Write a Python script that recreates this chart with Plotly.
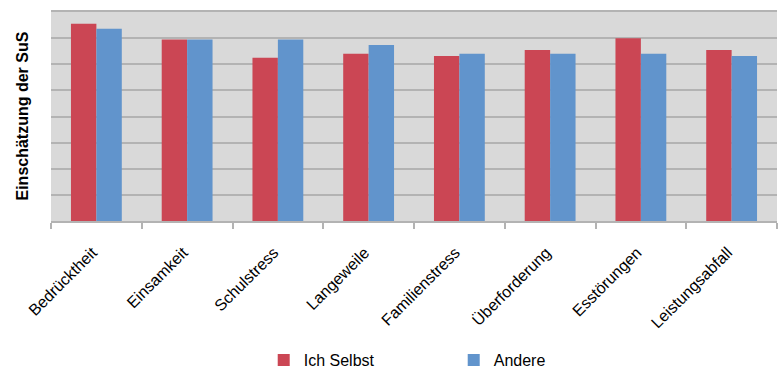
import plotly.graph_objects as go

categories = ["Bedrücktheit", "Einsamkeit", "Schulstress", "Langeweile",
              "Familienstress", "Überforderung", "Esstörungen", "Leistungsabfall"]
ich_selbst = [7.55, 6.95, 6.25, 6.40, 6.32, 6.55, 7.00, 6.55]
andere = [7.36, 6.95, 6.95, 6.74, 6.40, 6.40, 6.40, 6.32]

RED = "#CB4654"
BLUE = "#6194CC"
GRID = "#b3b3b3"
FONT = "Liberation Sans, Arial, sans-serif"

fig = go.Figure()
fig.add_trace(go.Bar(x=categories, y=ich_selbst, name="Ich Selbst", marker_color=RED, marker_line_width=0))
fig.add_trace(go.Bar(x=categories, y=andere, name="Andere", marker_color=BLUE, marker_line_width=0))

fig.update_layout(
    width=778, height=370,
    margin=dict(l=51, r=1, t=12, b=149, autoexpand=False),
    paper_bgcolor="white",
    plot_bgcolor="#d9d9d9",
    barmode="group",
    bargap=0.44,
    bargroupgap=0,
    font=dict(family=FONT, size=16, color="#000000"),
    showlegend=True,
    legend=dict(orientation="h", x=0.293, xanchor="left", y=-0.665, yanchor="middle",
                font=dict(size=16), entrywidth=145, entrywidthmode="pixels",
                itemwidth=30, bgcolor="rgba(0,0,0,0)"),
    xaxis=dict(
        type="category",
        tickangle=-45,
        tickfont=dict(size=16, color="#000000"),
        ticks="outside", tickson="boundaries", ticklen=6, tickwidth=2, tickcolor=GRID,
        ticklabelstandoff=14, ticklabelshift=-4,
        showline=True, linecolor=GRID, linewidth=2, mirror=True,
        showgrid=False, automargin=False,
    ),
    yaxis=dict(
        range=[0, 8], dtick=1,
        showticklabels=False,
        showgrid=True, gridcolor=GRID, gridwidth=2,
        zeroline=False, showline=False, ticks="", automargin=False,
    ),
    annotations=[dict(
        text="<b>Einschätzung der SuS</b>", xref="paper", yref="paper",
        x=-29 / 726, y=0.5, xanchor="center", yanchor="middle",
        textangle=-90, showarrow=False, font=dict(size=16, family=FONT, color="#000000"),
    )],
)

fig.write_html("out.html")
